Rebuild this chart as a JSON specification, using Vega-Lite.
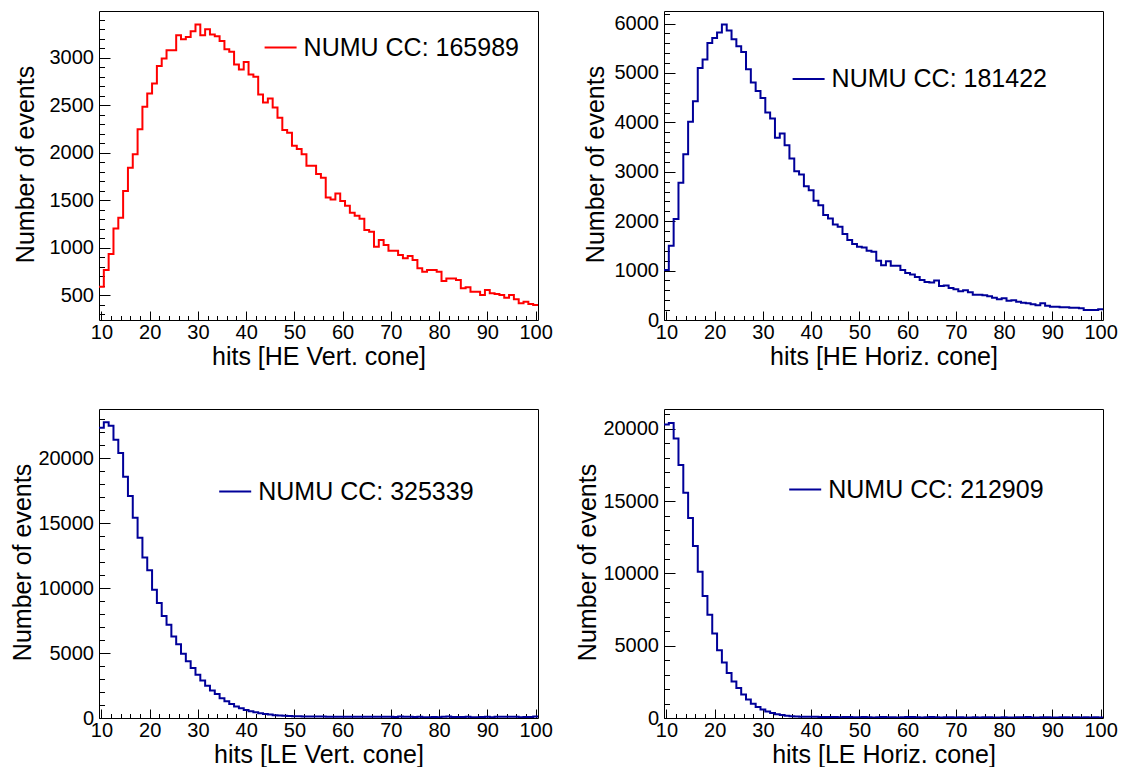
{
  "$schema": "https://vega.github.io/schema/vega-lite/v6.json",
  "autosize": {"type": "none"},
  "padding": {"left": 99, "top": 11, "right": 1023, "bottom": 756},
  "background": "white",
  "datasets": {
    "hev": [{"b":9.5,"n":588},{"b":10.5,"n":763},{"b":11.5,"n":931},{"b":12.5,"n":1201},{"b":13.5,"n":1314},{"b":14.5,"n":1594},{"b":15.5,"n":1840},{"b":16.5,"n":1983},{"b":17.5,"n":2246},{"b":18.5,"n":2481},{"b":19.5,"n":2621},{"b":20.5,"n":2727},{"b":21.5,"n":2912},{"b":22.5,"n":2989},{"b":23.5,"n":3077},{"b":24.5,"n":3077},{"b":25.5,"n":3235},{"b":26.5,"n":3193},{"b":27.5,"n":3217},{"b":28.5,"n":3277},{"b":29.5,"n":3347},{"b":30.5,"n":3235},{"b":31.5,"n":3298},{"b":32.5,"n":3242},{"b":33.5,"n":3224},{"b":34.5,"n":3175},{"b":35.5,"n":3088},{"b":36.5,"n":3060},{"b":37.5,"n":2926},{"b":38.5,"n":2874},{"b":39.5,"n":2954},{"b":40.5,"n":2821},{"b":41.5,"n":2797},{"b":42.5,"n":2611},{"b":43.5,"n":2527},{"b":44.5,"n":2569},{"b":45.5,"n":2474},{"b":46.5,"n":2365},{"b":47.5,"n":2236},{"b":48.5,"n":2208},{"b":49.5,"n":2071},{"b":50.5,"n":2036},{"b":51.5,"n":1983},{"b":52.5,"n":1860},{"b":53.5,"n":1860},{"b":54.5,"n":1773},{"b":55.5,"n":1734},{"b":56.5,"n":1527},{"b":57.5,"n":1506},{"b":58.5,"n":1570},{"b":59.5,"n":1489},{"b":60.5,"n":1440},{"b":61.5,"n":1366},{"b":62.5,"n":1335},{"b":63.5,"n":1303},{"b":64.5,"n":1184},{"b":65.5,"n":1166},{"b":66.5,"n":1009},{"b":67.5,"n":1079},{"b":68.5,"n":1026},{"b":69.5,"n":967},{"b":70.5,"n":967},{"b":71.5,"n":921},{"b":72.5,"n":886},{"b":73.5,"n":910},{"b":74.5,"n":868},{"b":75.5,"n":781},{"b":76.5,"n":746},{"b":77.5,"n":763},{"b":78.5,"n":763},{"b":79.5,"n":746},{"b":80.5,"n":647},{"b":81.5,"n":675},{"b":82.5,"n":675},{"b":83.5,"n":658},{"b":84.5,"n":570},{"b":85.5,"n":581},{"b":86.5,"n":535},{"b":87.5,"n":535},{"b":88.5,"n":500},{"b":89.5,"n":553},{"b":90.5,"n":518},{"b":91.5,"n":511},{"b":92.5,"n":500},{"b":93.5,"n":472},{"b":94.5,"n":500},{"b":95.5,"n":455},{"b":96.5,"n":413},{"b":97.5,"n":430},{"b":98.5,"n":406},{"b":99.5,"n":395},{"b":100.5,"n":395}],
    "heh": [{"b":9.5,"n":1010},{"b":10.5,"n":1502},{"b":11.5,"n":2042},{"b":12.5,"n":2777},{"b":13.5,"n":3357},{"b":14.5,"n":4011},{"b":15.5,"n":4429},{"b":16.5,"n":5103},{"b":17.5,"n":5272},{"b":18.5,"n":5609},{"b":19.5,"n":5710},{"b":20.5,"n":5818},{"b":21.5,"n":5980},{"b":22.5,"n":5858},{"b":23.5,"n":5683},{"b":24.5,"n":5541},{"b":25.5,"n":5427},{"b":26.5,"n":5076},{"b":27.5,"n":4806},{"b":28.5,"n":4638},{"b":29.5,"n":4496},{"b":30.5,"n":4200},{"b":31.5,"n":4078},{"b":32.5,"n":3687},{"b":33.5,"n":3775},{"b":34.5,"n":3539},{"b":35.5,"n":3269},{"b":36.5,"n":3013},{"b":37.5,"n":2945},{"b":38.5,"n":2709},{"b":39.5,"n":2628},{"b":40.5,"n":2413},{"b":41.5,"n":2325},{"b":42.5,"n":2123},{"b":43.5,"n":2056},{"b":44.5,"n":1934},{"b":45.5,"n":1887},{"b":46.5,"n":1739},{"b":47.5,"n":1617},{"b":48.5,"n":1536},{"b":49.5,"n":1482},{"b":50.5,"n":1470},{"b":51.5,"n":1400},{"b":52.5,"n":1380},{"b":53.5,"n":1200},{"b":54.5,"n":1110},{"b":55.5,"n":1190},{"b":56.5,"n":1100},{"b":57.5,"n":1100},{"b":58.5,"n":1010},{"b":59.5,"n":950},{"b":60.5,"n":920},{"b":61.5,"n":870},{"b":62.5,"n":810},{"b":63.5,"n":770},{"b":64.5,"n":760},{"b":65.5,"n":800},{"b":66.5,"n":690},{"b":67.5,"n":700},{"b":68.5,"n":650},{"b":69.5,"n":620},{"b":70.5,"n":580},{"b":71.5,"n":600},{"b":72.5,"n":560},{"b":73.5,"n":510},{"b":74.5,"n":510},{"b":75.5,"n":500},{"b":76.5,"n":480},{"b":77.5,"n":450},{"b":78.5,"n":420},{"b":79.5,"n":440},{"b":80.5,"n":390},{"b":81.5,"n":400},{"b":82.5,"n":370},{"b":83.5,"n":350},{"b":84.5,"n":340},{"b":85.5,"n":320},{"b":86.5,"n":300},{"b":87.5,"n":340},{"b":88.5,"n":290},{"b":89.5,"n":270},{"b":90.5,"n":270},{"b":91.5,"n":260},{"b":92.5,"n":260},{"b":93.5,"n":250},{"b":94.5,"n":250},{"b":95.5,"n":240},{"b":96.5,"n":200},{"b":97.5,"n":200},{"b":98.5,"n":200},{"b":99.5,"n":220},{"b":100.5,"n":220}],
    "lev": [{"b":9.5,"n":22330},{"b":10.5,"n":22750},{"b":11.5,"n":22480},{"b":12.5,"n":21410},{"b":13.5,"n":20390},{"b":14.5,"n":18560},{"b":15.5,"n":17080},{"b":16.5,"n":15400},{"b":17.5,"n":13860},{"b":18.5,"n":12340},{"b":19.5,"n":11360},{"b":20.5,"n":9860},{"b":21.5,"n":8840},{"b":22.5,"n":7840},{"b":23.5,"n":7170},{"b":24.5,"n":6260},{"b":25.5,"n":5680},{"b":26.5,"n":4940},{"b":27.5,"n":4370},{"b":28.5,"n":3850},{"b":29.5,"n":3330},{"b":30.5,"n":2880},{"b":31.5,"n":2490},{"b":32.5,"n":2110},{"b":33.5,"n":1850},{"b":34.5,"n":1520},{"b":35.5,"n":1290},{"b":36.5,"n":1080},{"b":37.5,"n":880},{"b":38.5,"n":750},{"b":39.5,"n":620},{"b":40.5,"n":520},{"b":41.5,"n":440},{"b":42.5,"n":360},{"b":43.5,"n":310},{"b":44.5,"n":260},{"b":45.5,"n":220},{"b":46.5,"n":190},{"b":47.5,"n":170},{"b":48.5,"n":150},{"b":49.5,"n":140},{"b":50.5,"n":130},{"b":51.5,"n":125},{"b":52.5,"n":120},{"b":53.5,"n":115},{"b":54.5,"n":110},{"b":55.5,"n":110},{"b":56.5,"n":105},{"b":57.5,"n":100},{"b":58.5,"n":100},{"b":59.5,"n":100},{"b":60.5,"n":95},{"b":61.5,"n":95},{"b":62.5,"n":100},{"b":63.5,"n":95},{"b":64.5,"n":90},{"b":65.5,"n":90},{"b":66.5,"n":95},{"b":67.5,"n":90},{"b":68.5,"n":90},{"b":69.5,"n":90},{"b":70.5,"n":85},{"b":71.5,"n":120},{"b":72.5,"n":90},{"b":73.5,"n":90},{"b":74.5,"n":85},{"b":75.5,"n":90},{"b":76.5,"n":60},{"b":77.5,"n":60},{"b":78.5,"n":85},{"b":79.5,"n":60},{"b":80.5,"n":90},{"b":81.5,"n":110},{"b":82.5,"n":70},{"b":83.5,"n":70},{"b":84.5,"n":80},{"b":85.5,"n":100},{"b":86.5,"n":60},{"b":87.5,"n":60},{"b":88.5,"n":70},{"b":89.5,"n":90},{"b":90.5,"n":60},{"b":91.5,"n":100},{"b":92.5,"n":100},{"b":93.5,"n":90},{"b":94.5,"n":100},{"b":95.5,"n":100},{"b":96.5,"n":60},{"b":97.5,"n":80},{"b":98.5,"n":80},{"b":99.5,"n":110},{"b":100.5,"n":110}],
    "leh": [{"b":9.5,"n":20300},{"b":10.5,"n":20400},{"b":11.5,"n":19330},{"b":12.5,"n":17490},{"b":13.5,"n":15570},{"b":14.5,"n":13830},{"b":15.5,"n":11900},{"b":16.5,"n":10120},{"b":17.5,"n":8430},{"b":18.5,"n":7140},{"b":19.5,"n":5850},{"b":20.5,"n":4690},{"b":21.5,"n":3840},{"b":22.5,"n":3110},{"b":23.5,"n":2520},{"b":24.5,"n":2070},{"b":25.5,"n":1630},{"b":26.5,"n":1280},{"b":27.5,"n":990},{"b":28.5,"n":760},{"b":29.5,"n":590},{"b":30.5,"n":450},{"b":31.5,"n":340},{"b":32.5,"n":260},{"b":33.5,"n":200},{"b":34.5,"n":150},{"b":35.5,"n":120},{"b":36.5,"n":100},{"b":37.5,"n":90},{"b":38.5,"n":80},{"b":39.5,"n":80},{"b":40.5,"n":80},{"b":41.5,"n":70},{"b":42.5,"n":70},{"b":43.5,"n":75},{"b":44.5,"n":70},{"b":45.5,"n":60},{"b":46.5,"n":70},{"b":47.5,"n":65},{"b":48.5,"n":60},{"b":49.5,"n":55},{"b":50.5,"n":70},{"b":51.5,"n":60},{"b":52.5,"n":40},{"b":53.5,"n":60},{"b":54.5,"n":70},{"b":55.5,"n":45},{"b":56.5,"n":60},{"b":57.5,"n":40},{"b":58.5,"n":60},{"b":59.5,"n":70},{"b":60.5,"n":70},{"b":61.5,"n":60},{"b":62.5,"n":40},{"b":63.5,"n":50},{"b":64.5,"n":70},{"b":65.5,"n":50},{"b":66.5,"n":40},{"b":67.5,"n":60},{"b":68.5,"n":55},{"b":69.5,"n":35},{"b":70.5,"n":60},{"b":71.5,"n":40},{"b":72.5,"n":40},{"b":73.5,"n":60},{"b":74.5,"n":40},{"b":75.5,"n":50},{"b":76.5,"n":45},{"b":77.5,"n":35},{"b":78.5,"n":40},{"b":79.5,"n":60},{"b":80.5,"n":40},{"b":81.5,"n":40},{"b":82.5,"n":60},{"b":83.5,"n":45},{"b":84.5,"n":70},{"b":85.5,"n":40},{"b":86.5,"n":35},{"b":87.5,"n":50},{"b":88.5,"n":60},{"b":89.5,"n":40},{"b":90.5,"n":40},{"b":91.5,"n":45},{"b":92.5,"n":50},{"b":93.5,"n":40},{"b":94.5,"n":55},{"b":95.5,"n":40},{"b":96.5,"n":45},{"b":97.5,"n":40},{"b":98.5,"n":50},{"b":99.5,"n":40},{"b":100.5,"n":40}]
  },
  "columns": 2,
  "spacing": {"column": 126, "row": 89},
  "bounds": "flush",
  "resolve": {"scale": {"x": "independent", "y": "independent", "color": "independent"}, "axis": {"x": "independent", "y": "independent"}, "legend": {"color": "independent"}},
  "concat": [
    {
      "width": 439, "height": 309,
      "data": {"name": "hev"},
      "resolve": {"axis": {"x": "independent", "y": "independent"}},
      "layer": [
        {"mark": {"type": "line", "opacity": 0},
         "encoding": {
           "x": {"field": "b", "type": "quantitative", "scale": {"domain": [9.5, 100.5], "nice": false, "zero": false},
                 "axis": {"orient": "bottom", "values": [10,12,14,16,18,20,22,24,26,28,30,32,34,36,38,40,42,44,46,48,50,52,54,56,58,60,62,64,66,68,70,72,74,76,78,80,82,84,86,88,90,92,94,96,98,100], "tickSize": -4.5, "labels": false, "title": null}},
           "y": {"field": "n", "type": "quantitative", "scale": {"domain": [237, 3490], "nice": false, "zero": false},
                 "axis": {"orient": "left", "values": [300,400,500,600,700,800,900,1000,1100,1200,1300,1400,1500,1600,1700,1800,1900,2000,2100,2200,2300,2400,2500,2600,2700,2800,2900,3000,3100,3200,3300,3400], "tickSize": -5.5, "labels": false, "title": null}}
         }},
        {"mark": {"type": "line", "interpolate": "step-after", "strokeWidth": 2, "clip": true},
         "encoding": {
           "x": {"field": "b", "type": "quantitative", "scale": {"domain": [9.5, 100.5], "nice": false, "zero": false},
                 "axis": {"orient": "bottom", "values": [10,20,30,40,50,60,70,80,90,100], "format": "d", "tickSize": -9, "labelPadding": 11, "labelBaseline": "top", "title": "hits [HE Vert. cone]", "titleY": 44, "titleBaseline": "alphabetic"}},
           "y": {"field": "n", "type": "quantitative", "scale": {"domain": [237, 3490], "nice": false, "zero": false},
                 "axis": {"orient": "left", "values": [500,1000,1500,2000,2500,3000], "format": "d", "tickSize": -11, "labelPadding": 16.5, "labelBaseline": "middle", "title": "Number of events", "titleX": -66, "titleY": 153, "titleAngle": -90, "titleAlign": "center", "titleBaseline": "alphabetic"}},
           "color": {"datum": "NUMU CC: 165989", "type": "nominal", "scale": {"range": ["#ff0000"]},
                     "legend": {"orient": "none", "legendX": 164.6, "legendY": 19.5, "title": null, "symbolType": "stroke", "symbolSize": 1024, "symbolStrokeWidth": 2, "labelFontSize": 25, "labelOffset": 6, "padding": 0}}
         }}
      ]
    },
    {
      "width": 439, "height": 309,
      "data": {"name": "heh"},
      "resolve": {"axis": {"x": "independent", "y": "independent"}},
      "layer": [
        {"mark": {"type": "line", "opacity": 0},
         "encoding": {
           "x": {"field": "b", "type": "quantitative", "scale": {"domain": [9.5, 100.5], "nice": false, "zero": false},
                 "axis": {"orient": "bottom", "values": [10,12,14,16,18,20,22,24,26,28,30,32,34,36,38,40,42,44,46,48,50,52,54,56,58,60,62,64,66,68,70,72,74,76,78,80,82,84,86,88,90,92,94,96,98,100], "tickSize": -4.5, "labels": false, "title": null}},
           "y": {"field": "n", "type": "quantitative", "scale": {"domain": [0, 6255], "nice": false, "zero": false},
                 "axis": {"orient": "left", "values": [0,200,400,600,800,1000,1200,1400,1600,1800,2000,2200,2400,2600,2800,3000,3200,3400,3600,3800,4000,4200,4400,4600,4800,5000,5200,5400,5600,5800,6000,6200], "tickSize": -5.5, "labels": false, "title": null}}
         }},
        {"mark": {"type": "line", "interpolate": "step-after", "strokeWidth": 2, "clip": true},
         "encoding": {
           "x": {"field": "b", "type": "quantitative", "scale": {"domain": [9.5, 100.5], "nice": false, "zero": false},
                 "axis": {"orient": "bottom", "values": [10,20,30,40,50,60,70,80,90,100], "format": "d", "tickSize": -9, "labelPadding": 11, "labelBaseline": "top", "title": "hits [HE Horiz. cone]", "titleY": 44, "titleBaseline": "alphabetic"}},
           "y": {"field": "n", "type": "quantitative", "scale": {"domain": [0, 6255], "nice": false, "zero": false},
                 "axis": {"orient": "left", "values": [0,1000,2000,3000,4000,5000,6000], "format": "d", "tickSize": -11, "labelPadding": 16.5, "labelBaseline": "middle", "title": "Number of events", "titleX": -61, "titleY": 153, "titleAngle": -90, "titleAlign": "center", "titleBaseline": "alphabetic"}},
           "color": {"datum": "NUMU CC: 181422", "type": "nominal", "scale": {"range": ["#000099"]},
                     "legend": {"orient": "none", "legendX": 127.6, "legendY": 51, "title": null, "symbolType": "stroke", "symbolSize": 1024, "symbolStrokeWidth": 2, "labelFontSize": 25, "labelOffset": 6, "padding": 0}}
         }}
      ]
    },
    {
      "width": 439, "height": 309,
      "data": {"name": "lev"},
      "resolve": {"axis": {"x": "independent", "y": "independent"}},
      "layer": [
        {"mark": {"type": "line", "opacity": 0},
         "encoding": {
           "x": {"field": "b", "type": "quantitative", "scale": {"domain": [9.5, 100.5], "nice": false, "zero": false},
                 "axis": {"orient": "bottom", "values": [10,12,14,16,18,20,22,24,26,28,30,32,34,36,38,40,42,44,46,48,50,52,54,56,58,60,62,64,66,68,70,72,74,76,78,80,82,84,86,88,90,92,94,96,98,100], "tickSize": -4.5, "labels": false, "title": null}},
           "y": {"field": "n", "type": "quantitative", "scale": {"domain": [0, 23770], "nice": false, "zero": false},
                 "axis": {"orient": "left", "values": [0,1000,2000,3000,4000,5000,6000,7000,8000,9000,10000,11000,12000,13000,14000,15000,16000,17000,18000,19000,20000,21000,22000,23000], "tickSize": -5.5, "labels": false, "title": null}}
         }},
        {"mark": {"type": "line", "interpolate": "step-after", "strokeWidth": 2, "clip": true},
         "encoding": {
           "x": {"field": "b", "type": "quantitative", "scale": {"domain": [9.5, 100.5], "nice": false, "zero": false},
                 "axis": {"orient": "bottom", "values": [10,20,30,40,50,60,70,80,90,100], "format": "d", "tickSize": -9, "labelPadding": 11, "labelBaseline": "top", "title": "hits [LE Vert. cone]", "titleY": 44, "titleBaseline": "alphabetic"}},
           "y": {"field": "n", "type": "quantitative", "scale": {"domain": [0, 23770], "nice": false, "zero": false},
                 "axis": {"orient": "left", "values": [0,5000,10000,15000,20000], "format": "d", "tickSize": -11, "labelPadding": 16.5, "labelBaseline": "middle", "title": "Number of events", "titleX": -69, "titleY": 153, "titleAngle": -90, "titleAlign": "center", "titleBaseline": "alphabetic"}},
           "color": {"datum": "NUMU CC: 325339", "type": "nominal", "scale": {"range": ["#000099"]},
                     "legend": {"orient": "none", "legendX": 119.2, "legendY": 65.5, "title": null, "symbolType": "stroke", "symbolSize": 1024, "symbolStrokeWidth": 2, "labelFontSize": 25, "labelOffset": 6, "padding": 0}}
         }}
      ]
    },
    {
      "width": 439, "height": 309,
      "data": {"name": "leh"},
      "resolve": {"axis": {"x": "independent", "y": "independent"}},
      "layer": [
        {"mark": {"type": "line", "opacity": 0},
         "encoding": {
           "x": {"field": "b", "type": "quantitative", "scale": {"domain": [9.5, 100.5], "nice": false, "zero": false},
                 "axis": {"orient": "bottom", "values": [10,12,14,16,18,20,22,24,26,28,30,32,34,36,38,40,42,44,46,48,50,52,54,56,58,60,62,64,66,68,70,72,74,76,78,80,82,84,86,88,90,92,94,96,98,100], "tickSize": -4.5, "labels": false, "title": null}},
           "y": {"field": "n", "type": "quantitative", "scale": {"domain": [0, 21370], "nice": false, "zero": false},
                 "axis": {"orient": "left", "values": [0,1000,2000,3000,4000,5000,6000,7000,8000,9000,10000,11000,12000,13000,14000,15000,16000,17000,18000,19000,20000,21000], "tickSize": -5.5, "labels": false, "title": null}}
         }},
        {"mark": {"type": "line", "interpolate": "step-after", "strokeWidth": 2, "clip": true},
         "encoding": {
           "x": {"field": "b", "type": "quantitative", "scale": {"domain": [9.5, 100.5], "nice": false, "zero": false},
                 "axis": {"orient": "bottom", "values": [10,20,30,40,50,60,70,80,90,100], "format": "d", "tickSize": -9, "labelPadding": 11, "labelBaseline": "top", "title": "hits [LE Horiz. cone]", "titleY": 44, "titleBaseline": "alphabetic"}},
           "y": {"field": "n", "type": "quantitative", "scale": {"domain": [0, 21370], "nice": false, "zero": false},
                 "axis": {"orient": "left", "values": [0,5000,10000,15000,20000], "format": "d", "tickSize": -11, "labelPadding": 16.5, "labelBaseline": "middle", "title": "Number of events", "titleX": -69, "titleY": 153, "titleAngle": -90, "titleAlign": "center", "titleBaseline": "alphabetic"}},
           "color": {"datum": "NUMU CC: 212909", "type": "nominal", "scale": {"range": ["#000099"]},
                     "legend": {"orient": "none", "legendX": 124.2, "legendY": 63.5, "title": null, "symbolType": "stroke", "symbolSize": 1024, "symbolStrokeWidth": 2, "labelFontSize": 25, "labelOffset": 6, "padding": 0}}
         }}
      ]
    }
  ],
  "config": {
    "font": "Liberation Sans",
    "view": {"stroke": "#000000", "strokeWidth": 1},
    "axis": {"labelFont": "Liberation Sans", "labelFontSize": 20, "labelColor": "#000000", "labelFlush": false, "labelOverlap": false, "labelBound": false,
             "titleFont": "Liberation Sans", "titleFontSize": 25, "titleFontWeight": "normal", "titleColor": "#000000",
             "tickColor": "#000000", "tickWidth": 1, "grid": false, "domain": false},
    "legend": {"labelFont": "Liberation Sans", "labelColor": "#000000", "labelLimit": 0}
  }
}
